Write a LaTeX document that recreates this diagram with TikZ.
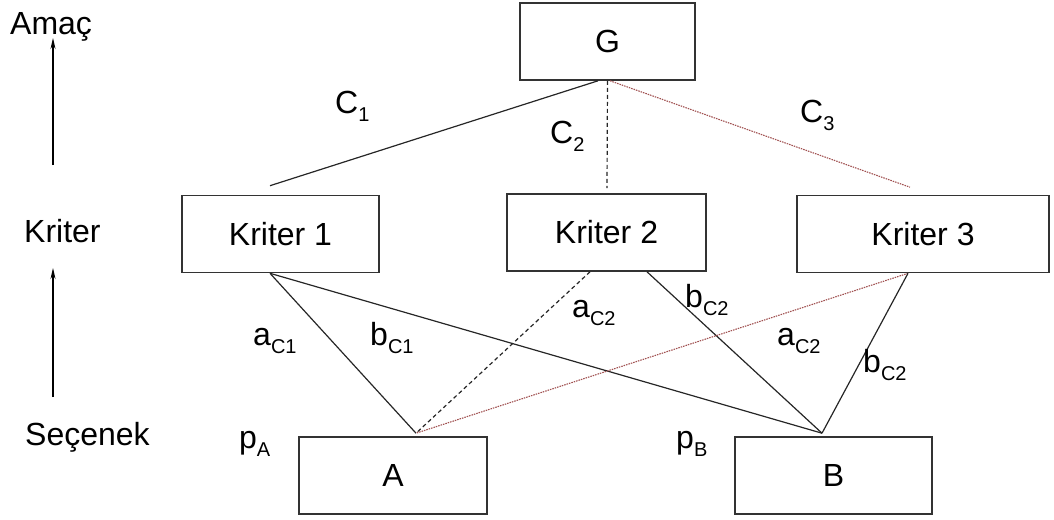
\documentclass[tikz,border=0pt]{standalone}
\usepackage{fontspec}
\setmainfont{Liberation Sans}
\usetikzlibrary{arrows.meta}
\newcommand\lab[2]{#1\raisebox{-8pt}{\fontsize{20}{20}\selectfont #2}}
\definecolor{dotred}{RGB}{160,80,80}
\begin{document}
\begin{tikzpicture}[x=1pt,y=-1pt,
  box/.style={draw=black!80, line width=1.6pt, minimum height=77pt, inner sep=0pt, font=\fontsize{32}{36}\selectfont},
  lbl/.style={anchor=base west, inner sep=0pt, font=\fontsize{32}{36}\selectfont},
  link/.style={line width=1.2pt, draw=black!85},
  dashlink/.style={line width=1.2pt, draw=black!85, dash pattern=on 4pt off 3pt},
  dotlink/.style={line width=1.1pt, draw=dotred, dash pattern=on 1.5pt off 1pt},
  uparrow/.style={line width=1.1pt, -{Stealth[length=11pt,width=5pt]}}]
\useasboundingbox (0,0) rectangle (1054,519);
% boxes
\node[box, minimum width=175pt] (G) at (607.5,41.5) {G};
\node[box, minimum width=197pt] (K1) at (280.5,234) {Kriter 1};
\node[box, minimum width=199pt] (K2) at (606.5,232.5) {Kriter 2};
\node[box, minimum width=252pt] (K3) at (923,234) {Kriter 3};
\node[box, minimum width=188pt] (A) at (393,475.5) {A};
\node[box, minimum width=197pt] (B) at (833.5,475.5) {B};
% left side labels
\node[lbl] (amac) at (10,35) {Amaç};
\node[lbl] (kriter) at (24,242) {Kriter};
\node[lbl] (secenek) at (25,445) {Seçenek};
\coordinate (ar1s) at (53,165); \coordinate (ar1e) at (53,38);
\coordinate (ar2s) at (53,397); \coordinate (ar2e) at (53,268);
\draw[uparrow] (ar1s) -- (ar1e);
\draw[uparrow] (ar2s) -- (ar2e);
% goal to criteria
\draw[link] ([xshift=-9.5pt]G.south) -- ([xshift=-10.5pt,yshift=9pt]K1.north);
\draw[dashlink] (G.south) -- ([xshift=0.5pt,yshift=5pt]K2.north);
\draw[dotlink] ([xshift=2.5pt]G.south) -- ([xshift=-13pt,yshift=7.5pt]K3.north);
% criteria to alternatives
\draw[link] ([xshift=-10.5pt]K1.south) -- ([xshift=23pt,yshift=3pt]A.north);
\draw[link] ([xshift=-10.5pt]K1.south) -- ([xshift=-11.5pt,yshift=3pt]B.north);
\draw[dashlink] ([xshift=-16.5pt]K2.south) -- ([xshift=23pt,yshift=3pt]A.north);
\draw[link] ([xshift=40.5pt]K2.south) -- ([xshift=-11.5pt,yshift=3pt]B.north);
\draw[dotlink] ([xshift=-15pt]K3.south) -- ([xshift=23pt,yshift=3pt]A.north);
\draw[link] ([xshift=-15pt]K3.south) -- ([xshift=-11.5pt,yshift=3pt]B.north);
% weight labels
\node[lbl] (c1) at (335,113) {\lab{C}{1}};
\node[lbl] (c2) at (550,143) {\lab{C}{2}};
\node[lbl] (c3) at (800,122) {\lab{C}{3}};
\node[lbl] (ac1) at (253,345) {\lab{a}{C1}};
\node[lbl] (bc1) at (370,345) {\lab{b}{C1}};
\node[lbl] (ac2a) at (572,317) {\lab{a}{C2}};
\node[lbl] (bc2a) at (685,307) {\lab{b}{C2}};
\node[lbl] (ac2b) at (777,345) {\lab{a}{C2}};
\node[lbl] (bc2b) at (863,372) {\lab{b}{C2}};
\node[lbl] (pa) at (239,448) {\lab{p}{A}};
\node[lbl] (pb) at (676,448) {\lab{p}{B}};
\end{tikzpicture}
\end{document}
